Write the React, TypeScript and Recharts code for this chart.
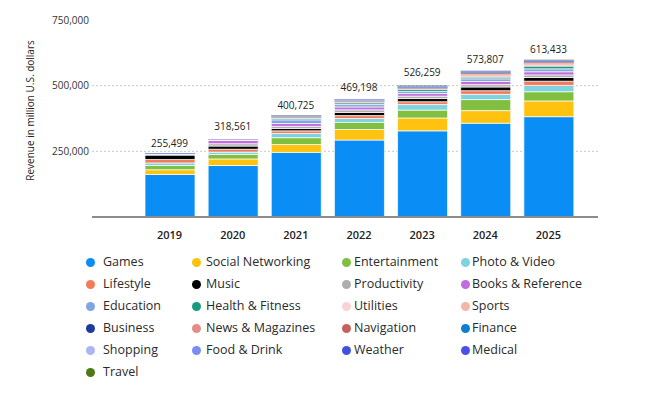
import React from 'react';
import { ComposedChart, Bar, Line, XAxis, YAxis, CartesianGrid, LabelList } from 'recharts';

document.body.style.margin = '0';

const years = ['2019', '2020', '2021', '2022', '2023', '2024', '2025'];
const totals = [255499, 318561, 400725, 469198, 526259, 573807, 613433];

const categories = [
  'Games', 'Social Networking', 'Entertainment', 'Photo & Video',
  'Lifestyle', 'Music', 'Productivity', 'Books & Reference',
  'Education', 'Health & Fitness', 'Utilities', 'Sports',
  'Business', 'News & Magazines', 'Navigation', 'Finance',
  'Shopping', 'Food & Drink', 'Weather', 'Medical',
  'Travel',
];

const colors = [
  '#0a8ef5', '#ffc20e', '#80bf3f', '#7dd3e0',
  '#f47a5a', '#000000', '#adadad', '#c26ddb',
  '#7ea6e0', '#169b7c', '#fbd3d6', '#f2b7a6',
  '#1e3a9e', '#e38d86', '#c7605c', '#0c7fd0',
  '#a9b6f2', '#7a8ef2', '#3f52df', '#4c4fe8',
  '#4d7a16',
];

// revenue per category, million U.S. dollars, 2019..2025
const games = [162000, 196000, 246000, 293000, 328000, 357000, 382000];
const socialNetworking = [18000, 25000, 30000, 40000, 49000, 48000, 60000];
const entertainment = [16000, 17000, 26000, 27000, 30000, 42000, 35000];
const photoVideo = [10000, 9000, 16000, 15000, 21000, 20000, 24000];
const lifestyle = [13000, 11000, 10000, 11000, 11000, 14000, 16000];
const music = [17000, 12000, 9000, 12000, 12000, 14000, 14000];
const productivity = [1000, 9000, 8000, 10000, 9000, 9000, 10000];
const booksReference = [1000, 13000, 11000, 11000, 10000, 12000, 12000];
const education = [1000, 1000, 14000, 9000, 8000, 10000, 11000];
const healthFitness = [500, 500, 5000, 6000, 7000, 6000, 10000];
const utilities = [300, 300, 3000, 3000, 3000, 6000, 6000];
const sports = [300, 300, 1000, 3000, 2000, 7000, 6000];
const business = [300, 300, 1000, 1000, 2000, 2000, 2000];
const newsMagazines = [300, 300, 1000, 1000, 1000, 2000, 2000];
const navigation = [300, 300, 1000, 1000, 1000, 1000, 2000];
const finance = [300, 300, 1000, 1000, 2000, 2000, 2000];
const shopping = [300, 300, 1000, 1000, 1000, 1000, 1000];
const foodDrink = [300, 300, 1000, 1000, 1000, 1000, 1000];
const weather = [300, 300, 1000, 1000, 1000, 1000, 1000];
const medical = [300, 300, 500, 1000, 1000, 1000, 1000];
const travel = [300, 300, 500, 500, 1000, 1000, 1000];

const series = [
  games, socialNetworking, entertainment, photoVideo,
  lifestyle, music, productivity, booksReference,
  education, healthFitness, utilities, sports,
  business, newsMagazines, navigation, finance,
  shopping, foodDrink, weather, medical,
  travel,
];

const yTicks = [0, 250000, 500000, 750000];

const data = years.map((year, i) => {
  const row: Record<string, string | number> = { year, total: totals[i] };
  categories.forEach((c, k) => { row[c] = series[k][i]; });
  return row;
});

const fmt = (v: number) => v.toLocaleString('en-US');

const FONT = '"Open Sans", sans-serif';

const dotX = [90, 196, 346, 465];
const textX = [103, 206, 354, 472];

function ChartLegend() {
  return (
    <>
      {categories.map((c, i) => {
        const col = i % 4;
        const row = Math.floor(i / 4);
        const cy = 262 + row * 22;
        return (
          <div key={c}>
            <div style={{
              position: 'absolute', left: dotX[col] - 4.5, top: cy - 4.5,
              width: 9, height: 9, borderRadius: '50%', background: colors[i],
            }} />
            <div style={{
              position: 'absolute', left: textX[col], top: cy - 9, lineHeight: '18px',
              fontSize: 12.5, color: '#2a2a2a', fontFamily: FONT, whiteSpace: 'nowrap',
            }}>{c}</div>
          </div>
        );
      })}
    </>
  );
}

export default function App() {
  return (
    <div style={{ position: 'relative', width: 648, height: 397, background: '#fff' }}>
      <ComposedChart
        width={648}
        height={397}
        data={data}
        margin={{ top: 20, right: 50, left: 32, bottom: 150 }}
        style={{ fontFamily: FONT }}
      >
        <CartesianGrid
          vertical={false}
          horizontalValues={[250000, 500000]}
          stroke="#c8c8c8"
          strokeDasharray="2 2"
        />
        <XAxis
          dataKey="year"
          tickLine={false}
          axisLine={{ stroke: '#8c8c8c', strokeWidth: 2 }}
          padding={{ left: 46, right: 18 }}
          height={30}
          tick={{ fontSize: 11, fontWeight: 600, fill: '#222' }}
          tickMargin={8}
        />
        <YAxis
          width={60}
          domain={[0, 750000]}
          ticks={yTicks}
          tickFormatter={(v: number) => (v === 0 ? '' : fmt(v))}
          tickLine={false}
          axisLine={false}
          tickSize={0}
          tickMargin={3}
          tick={{ fontSize: 10, fill: '#333' }}
          label={{
            value: 'Revenue in million U.S. dollars',
            angle: -90,
            position: 'insideLeft',
            offset: -2,
            dy: -8,
            style: { textAnchor: 'middle', fontSize: 10, fill: '#222' },
          }}
        />
        {categories.map((c, k) => (
          <Bar
            key={c}
            dataKey={c}
            stackId="a"
            fill={colors[k]}
            stroke={k < 10 ? '#fff' : 'none'}
            strokeWidth={0.7}
            barSize={50}
            isAnimationActive={false}
          />
        ))}
        <Line
          dataKey="total"
          stroke="none"
          dot={false}
          activeDot={false}
          legendType="none"
          isAnimationActive={false}
        >
          <LabelList
            dataKey="total"
            position="top"
            offset={3}
            formatter={(v: number) => fmt(v)}
            style={{ fontSize: 10, fill: '#222' }}
          />
        </Line>
      </ComposedChart>
      <ChartLegend />
    </div>
  );
}
